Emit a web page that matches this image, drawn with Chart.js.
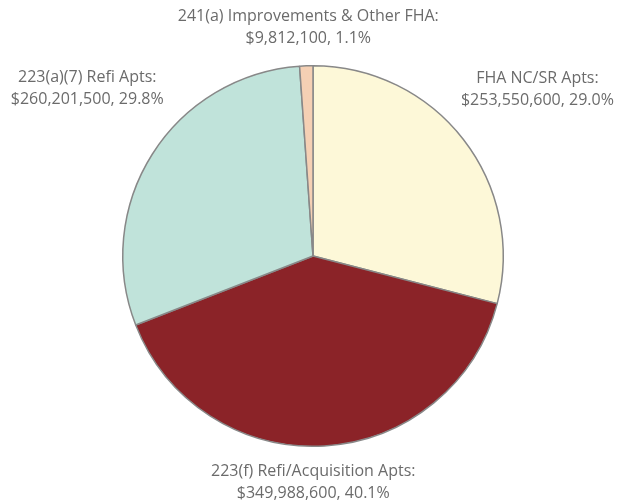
<!DOCTYPE html>
<html>
<head>
<meta charset="utf-8">
<script src="https://cdn.jsdelivr.net/npm/chart.js@4.4.1/dist/chart.umd.min.js"></script>
<style>
  html, body { margin: 0; padding: 0; background: #ffffff; }
  #wrap { width: 624px; height: 503px; position: relative; }
</style>
</head>
<body>
<div id="wrap"><canvas id="c" width="624" height="503"></canvas></div>
<script>
const categories = [
  "FHA NC/SR Apts:",
  "223(f) Refi/Acquisition Apts:",
  "223(a)(7) Refi Apts:",
  "241(a) Improvements & Other FHA:"
];
const amounts = [253550600, 349988600, 260201500, 9812100];
const percentLabels = ["29.0%", "40.1%", "29.8%", "1.1%"];
const colors = ["#FDF8D8", "#8B2328", "#C0E3DA", "#F5D0B4"];

// offset of each label's centre from the midpoint of its slice's outer edge
const labelShift = [[74, -50], [-11, 37], [-65, -66], [2, -38]];

function money(v) {
  return "$" + v.toLocaleString("en-US");
}

const labelPlugin = {
  id: "outerLabels",
  afterDraw(chart) {
    const ctx = chart.ctx;
    const meta = chart.getDatasetMeta(0);
    ctx.save();
    ctx.font = "16px 'Open Sans'";
    ctx.fillStyle = "#6b6b6b";
    ctx.textAlign = "center";
    ctx.textBaseline = "middle";
    meta.data.forEach((arc, i) => {
      const p = arc.getProps(["x", "y", "startAngle", "endAngle", "outerRadius"], true);
      const mid = (p.startAngle + p.endAngle) / 2;
      const x = p.x + Math.cos(mid) * p.outerRadius + labelShift[i][0];
      const y = p.y + Math.sin(mid) * p.outerRadius + labelShift[i][1];
      ctx.fillText(categories[i], x, y - 11);
      ctx.fillText(money(amounts[i]) + ", " + percentLabels[i], x, y + 11);
    });
    ctx.restore();
  }
};

new Chart(document.getElementById("c"), {
  type: "pie",
  data: {
    labels: categories,
    datasets: [{
      data: amounts,
      backgroundColor: colors,
      borderColor: "#888888",
      borderWidth: 1.5
    }]
  },
  options: {
    responsive: false,
    animation: false,
    layout: { padding: { top: 65, bottom: 56, left: 2, right: 0 } },
    plugins: {
      legend: { display: false },
      tooltip: { enabled: false }
    }
  },
  plugins: [labelPlugin]
});
</script>
</body>
</html>
